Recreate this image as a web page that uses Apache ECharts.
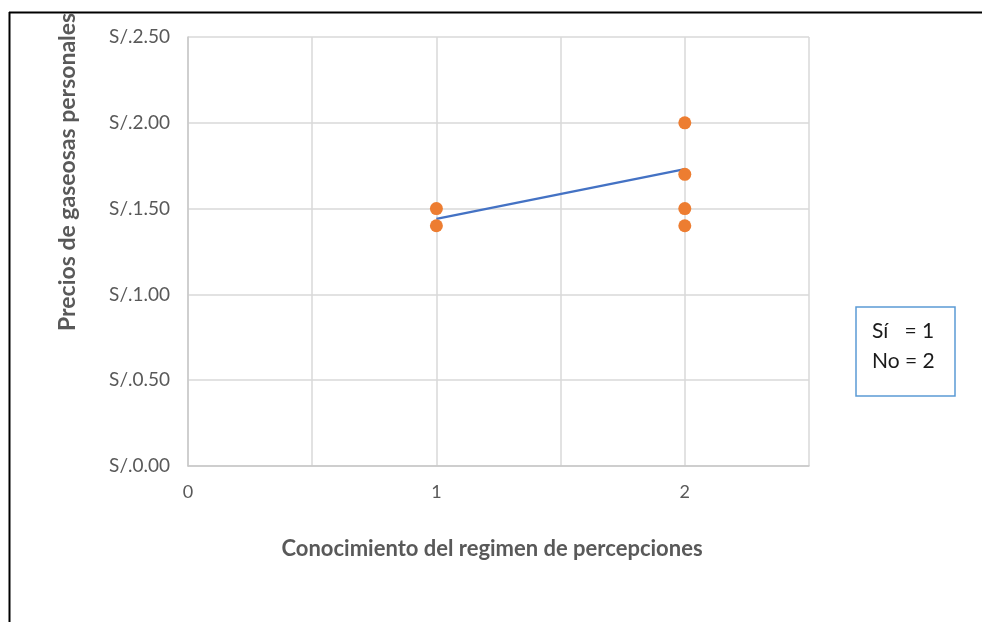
<!DOCTYPE html>
<html>
<head>
<meta charset="utf-8">
<script src="https://cdn.jsdelivr.net/npm/echarts@6/dist/echarts.min.js"></script>
<style>
html,body{margin:0;padding:0;background:#fff;}
#c{width:982px;height:622px;}
</style>
</head>
<body>
<div id="c"></div>
<script>
// Data
var groupX = [1, 1, 2, 2, 2, 2];
var prices = [1.50, 1.40, 2.00, 1.70, 1.50, 1.40];
var trendX = [1, 2];
var trendY = [1.44, 1.73];
var xTickLabels = {0: '0', 1: '1', 2: '2'};
var yTitle = 'Precios de gaseosas personales';
var xTitle = 'Conocimiento del regimen de percepciones';
var legendLines = ['Sí   = 1', 'No = 2'];

var scatterData = groupX.map(function (x, i) { return [x, prices[i]]; });
var lineData = trendX.map(function (x, i) { return [x, trendY[i]]; });

var font = 'Lato, "Open Sans", sans-serif';
var gridColor = '#d9d9d9';

var chart = echarts.init(document.getElementById('c'), null, {renderer: 'canvas'});
chart.setOption({
  animation: false,
  backgroundColor: '#fff',
  grid: {left: 188, top: 37, right: 173, bottom: 156, containLabel: false},
  xAxis: {
    type: 'value', min: 0, max: 2.5, interval: 0.5,
    axisLine: {show: true, lineStyle: {color: '#c8c8c8', width: 1.5}},
    axisTick: {show: false},
    splitLine: {show: true, lineStyle: {color: gridColor, width: 1.5}},
    axisLabel: {
      color: '#595959', fontSize: 18, fontFamily: font, margin: 17,
      formatter: function (v) { return xTickLabels[v] !== undefined ? xTickLabels[v] : ''; }
    }
  },
  yAxis: {
    type: 'value', min: 0, max: 2.5, interval: 0.5,
    axisLine: {show: true, lineStyle: {color: '#c8c8c8', width: 1.5}},
    axisTick: {show: false},
    splitLine: {show: true, lineStyle: {color: gridColor, width: 1.5}},
    axisLabel: {
      color: '#595959', fontSize: 19, fontFamily: font, margin: 18,
      formatter: function (v) { return 'S/.' + v.toFixed(2); }
    }
  },
  series: [
    {
      type: 'line', data: lineData, symbol: 'none', z: 3,
      lineStyle: {color: '#4472c4', width: 2.5}
    },
    {
      type: 'scatter', data: scatterData, symbol: 'circle', symbolSize: 13, z: 4,
      itemStyle: {color: '#ed7d31', opacity: 1}
    }
  ],
  graphic: [
    {
      type: 'text', x: 68, y: 331, rotation: Math.PI / 2, z: 10,
      style: {text: yTitle, fill: '#595959', font: 'bold 23px ' + font, textAlign: 'left', textVerticalAlign: 'middle'}
    },
    {
      type: 'rect', shape: {x: 0, y: 0, width: 982, height: 12}, z: 20,
      style: {fill: '#fff'}
    },
    {
      type: 'line', shape: {x1: 9, y1: 12.5, x2: 982, y2: 12.5}, z: 21,
      style: {stroke: '#000', lineWidth: 2}
    },
    {
      type: 'line', shape: {x1: 9.5, y1: 12, x2: 9.5, y2: 622}, z: 21,
      style: {stroke: '#000', lineWidth: 2}
    },
    {
      type: 'text', x: 492, y: 549, z: 10,
      style: {text: xTitle, fill: '#595959', font: 'bold 22px ' + font, textAlign: 'center', textVerticalAlign: 'middle'}
    },
    {
      type: 'rect', shape: {x: 856, y: 307, width: 99, height: 89}, z: 10,
      style: {fill: '#fff', stroke: '#5b9bd5', lineWidth: 1.5}
    },
    {
      type: 'text', x: 872, y: 331, z: 11,
      style: {text: legendLines[0], fill: '#1a1a1a', font: '21px ' + font, textAlign: 'left', textVerticalAlign: 'middle'}
    },
    {
      type: 'text', x: 872, y: 361, z: 11,
      style: {text: legendLines[1], fill: '#1a1a1a', font: '21px ' + font, textAlign: 'left', textVerticalAlign: 'middle'}
    }
  ]
});
</script>
</body>
</html>
